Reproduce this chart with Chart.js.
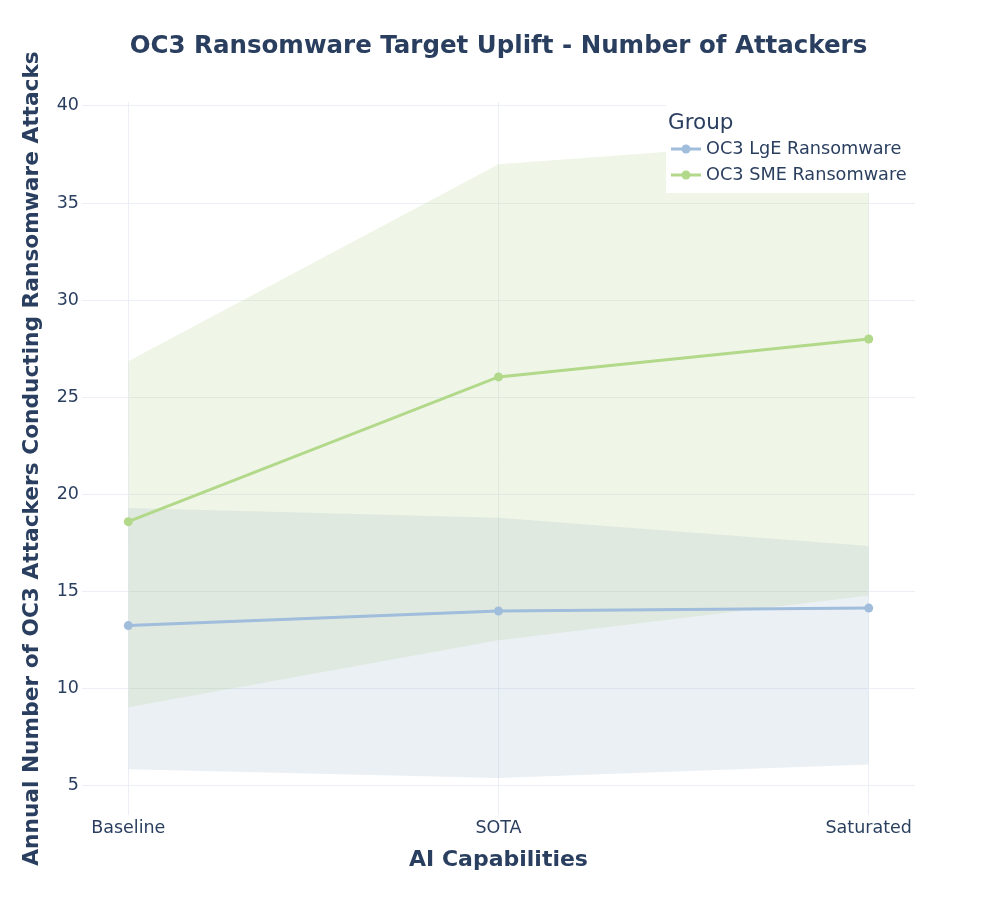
<!DOCTYPE html>
<html>
<head>
<meta charset="utf-8">
<title>OC3 Ransomware Target Uplift</title>
<script src="https://cdn.jsdelivr.net/npm/chart.js@4.4.1/dist/chart.umd.min.js"></script>
<style>
  html, body { margin: 0; padding: 0; background: #fff; }
  #wrap { width: 997px; height: 897px; position: relative; }
</style>
</head>
<body>
<div id="wrap"><canvas id="chart" width="997" height="897"></canvas></div>
<script>
// datos
const categories = ['Baseline', 'SOTA', 'Saturated'];
const lgeMean = [13.25, 14.0, 14.15];
const lgeUpper = [19.3, 18.8, 17.35];
const lgeLower = [5.85, 5.4, 6.1];
const smeMean = [18.6, 26.05, 28.0];
const smeUpper = [26.85, 37.0, 38.4];
const smeLower = [9.05, 12.5, 14.8];
const yTicks = [5, 10, 15, 20, 25, 30, 35, 40];

const textColor = '#2a3f5f';
const gridColor = '#ecf0f6';
const lgeColor = 'rgb(160, 189, 220)';
const smeColor = 'rgb(178, 217, 138)';

Chart.defaults.font.family = '"DejaVu Sans", Verdana, sans-serif';
Chart.defaults.color = textColor;

function toPoints(values) {
  return values.map((v, i) => ({ x: i, y: v }));
}

function bandSet(values, color, fill) {
  return {
    data: toPoints(values),
    borderWidth: 0,
    pointRadius: 0,
    pointHoverRadius: 0,
    backgroundColor: color,
    fill: fill,
    order: 2
  };
}

function lineSet(label, values, color) {
  return {
    label: label,
    data: toPoints(values),
    borderColor: color,
    backgroundColor: color,
    borderWidth: 3,
    pointRadius: 4.5,
    pointBorderWidth: 0,
    pointBackgroundColor: color,
    fill: false,
    order: 1
  };
}

// leyenda dibujada dentro del area, como en el original
const legendItems = [
  { label: 'OC3 LgE Ransomware', color: lgeColor },
  { label: 'OC3 SME Ransomware', color: smeColor }
];

const boxLegend = {
  id: 'boxLegend',
  afterDraw(chart) {
    const ctx = chart.ctx;
    ctx.save();
    ctx.fillStyle = '#ffffff';
    ctx.fillRect(666, 100, 262, 93);
    ctx.fillStyle = textColor;
    ctx.textBaseline = 'middle';
    ctx.textAlign = 'left';
    ctx.font = '21.5px "DejaVu Sans"';
    ctx.fillText('Group', 668, 123);
    ctx.font = '17.7px "DejaVu Sans"';
    legendItems.forEach((item, i) => {
      const y = 149 + i * 26;
      ctx.strokeStyle = item.color;
      ctx.lineWidth = 3;
      ctx.beginPath();
      ctx.moveTo(671, y);
      ctx.lineTo(701, y);
      ctx.stroke();
      ctx.fillStyle = item.color;
      ctx.beginPath();
      ctx.arc(686, y, 4.5, 0, Math.PI * 2);
      ctx.fill();
      ctx.fillStyle = textColor;
      ctx.fillText(item.label, 706, y);
    });
    ctx.restore();
  }
};

new Chart(document.getElementById('chart'), {
  type: 'line',
  data: {
    datasets: [
      bandSet(smeUpper, 'rgba(175, 205, 135, 0.2)', false),
      bandSet(smeLower, 'rgba(175, 205, 135, 0.2)', '-1'),
      bandSet(lgeUpper, 'rgba(155, 180, 205, 0.2)', false),
      bandSet(lgeLower, 'rgba(155, 180, 205, 0.2)', '-1'),
      lineSet('OC3 LgE Ransomware', lgeMean, lgeColor),
      lineSet('OC3 SME Ransomware', smeMean, smeColor)
    ]
  },
  options: {
    responsive: false,
    animation: false,
    layout: { padding: 0 },
    plugins: {
      legend: { display: false },
      tooltip: { enabled: false },
      title: {
        display: true,
        text: 'OC3 Ransomware Target Uplift - Number of Attackers',
        color: textColor,
        font: { size: 24.5, weight: 'bold' },
        padding: { top: 31.5, bottom: 41.1 }
      }
    },
    scales: {
      x: {
        type: 'linear',
        min: -0.125,
        max: 2.125,
        border: { display: false },
        grid: { color: gridColor, lineWidth: 1, drawTicks: false },
        ticks: {
          stepSize: 1,
          includeBounds: false,
          padding: 3,
          font: { size: 17.5 },
          color: textColor,
          callback: (v) => categories[v] ?? ''
        },
        title: {
          display: true,
          text: 'AI Capabilities',
          color: textColor,
          font: { size: 22, weight: 'bold' },
          padding: { top: 0, bottom: 23.8 }
        },
        afterFit: (scale) => { scale.height = 82; }
      },
      y: {
        min: 3.5,
        max: 40.2,
        border: { display: false },
        grid: { color: gridColor, lineWidth: 1, drawTicks: false },
        afterBuildTicks: (scale) => { scale.ticks = yTicks.map((v) => ({ value: v })); },
        ticks: {
          padding: 3,
          font: { size: 17.5 },
          color: textColor
        },
        title: {
          display: true,
          text: 'Annual Number of OC3 Attackers Conducting Ransomware Attacks',
          color: textColor,
          font: { size: 21.7, weight: 'bold' },
          padding: { top: 19, bottom: 0 }
        },
        afterFit: (scale) => { scale.width = 82; }
      },
      // margen derecho vacio para centrar el titulo
      yRight: {
        position: 'right',
        min: 3.5,
        max: 40.2,
        border: { display: false },
        grid: { display: false },
        ticks: { display: false },
        afterFit: (scale) => { scale.width = 82; }
      }
    }
  },
  plugins: [boxLegend]
});
</script>
</body>
</html>
